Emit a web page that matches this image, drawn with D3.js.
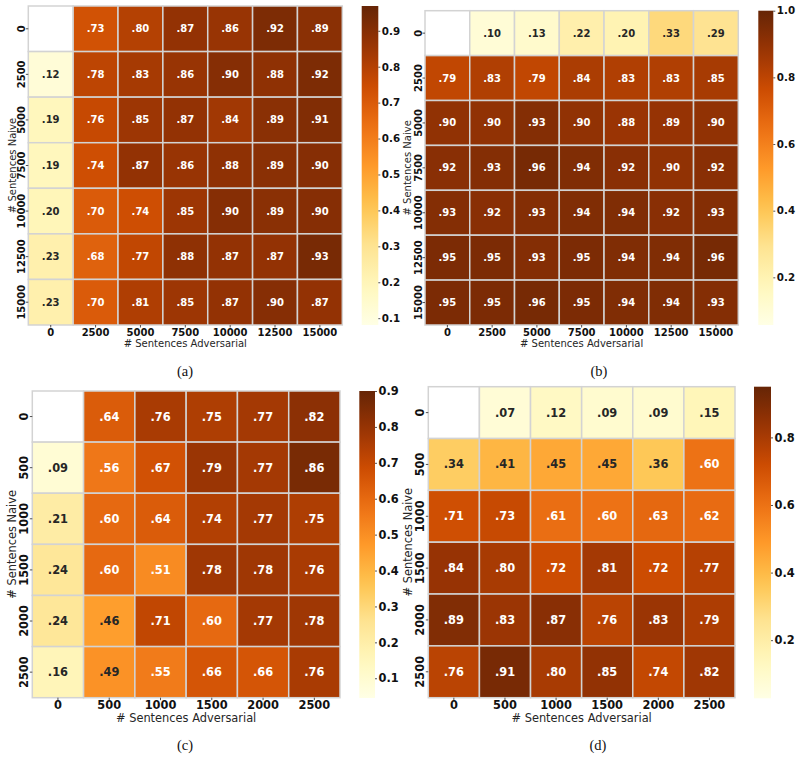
<!DOCTYPE html>
<html><head><meta charset="utf-8">
<script src="https://cdn.jsdelivr.net/npm/d3@7"></script>
<style>body{margin:0;background:#fff}svg{display:block}</style>
</head><body>
<svg id="chart" width="800" height="762"></svg>
<script>
// ---------- data ----------
const catsLarge = ["0","2500","5000","7500","10000","12500","15000"];
const catsSmall = ["0","500","1000","1500","2000","2500"];

const valuesA = [
  [null,.73,.80,.87,.86,.92,.89],
  [.12,.78,.83,.86,.90,.88,.92],
  [.19,.76,.85,.87,.84,.89,.91],
  [.19,.74,.87,.86,.88,.89,.90],
  [.20,.70,.74,.85,.90,.89,.90],
  [.23,.68,.77,.88,.87,.87,.93],
  [.23,.70,.81,.85,.87,.90,.87]
];
const valuesB = [
  [null,.10,.13,.22,.20,.33,.29],
  [.79,.83,.79,.84,.83,.83,.85],
  [.90,.90,.93,.90,.88,.89,.90],
  [.92,.93,.96,.94,.92,.90,.92],
  [.93,.92,.93,.94,.94,.92,.93],
  [.95,.95,.93,.95,.94,.94,.96],
  [.95,.95,.96,.95,.94,.94,.93]
];
const valuesC = [
  [null,.64,.76,.75,.77,.82],
  [.09,.56,.67,.79,.77,.86],
  [.21,.60,.64,.74,.77,.75],
  [.24,.60,.51,.78,.78,.76],
  [.24,.46,.71,.60,.77,.78],
  [.16,.49,.55,.66,.66,.76]
];
const valuesD = [
  [null,.07,.12,.09,.09,.15],
  [.34,.41,.45,.45,.36,.60],
  [.71,.73,.61,.60,.63,.62],
  [.84,.80,.72,.81,.72,.77],
  [.89,.83,.87,.76,.83,.79],
  [.76,.91,.80,.85,.74,.82]
];
const domainA = [0.081, 0.969], ticksA = [0.1,0.2,0.3,0.4,0.5,0.6,0.7,0.8,0.9];
const domainB = [0.057, 1.0],   ticksB = [0.2,0.4,0.6,0.8,1.0];
const domainC = [0.045, 0.90],  ticksC = [0.1,0.2,0.3,0.4,0.5,0.6,0.7,0.8,0.9];
const domainD = [0.028, 0.95],  ticksD = [0.2,0.4,0.6,0.8];
const captions = ["(a)","(b)","(c)","(d)"];
const xTitle = "# Sentences Adversarial", yTitle = "# Sentences Naive";

// matplotlib YlOrBr
const ylorbr = ["#ffffe5","#fff7bc","#fee391","#fec44f","#fe9929","#ec7014","#cc4c02","#993404","#662506"];

// ---------- layout ----------
const panels = [
  {vals:valuesA, cats:catsLarge, dom:domainA, ticks:ticksA, cap:captions[0],
   g:[28.3,342.3,6,325], cb:[361.7,378.3,6,325], fs:10, cfs:10.3, ytx:21, yty:12, xty:332, xtt:343, capPos:[185,371]},
  {vals:valuesB, cats:catsLarge, dom:domainB, ticks:ticksB, cap:captions[1],
   g:[425,738.3,10.7,325], cb:[758.3,773.3,10.7,325], fs:10, cfs:10.3, ytx:418, yty:407, xty:332, xtt:343, capPos:[599,371]},
  {vals:valuesC, cats:catsSmall, dom:domainC, ticks:ticksC, cap:captions[2],
   g:[32.3,340,391,697.7], cb:[359.3,375,391,698], fs:11.4, cfs:11.4, ytx:24, yty:12, xty:705, xtt:718, capPos:[185,745]},
  {vals:valuesD, cats:catsSmall, dom:domainD, ticks:ticksD, cap:captions[3],
   g:[428.3,735,386.7,697.7], cb:[754,771,386.7,698.3], fs:11.4, cfs:11.4, ytx:420, yty:408, xty:705, xtt:718, capPos:[598,745]}
];

const svg = d3.select("#chart");
const FONT = "'DejaVu Sans', sans-serif";

function lum(c){
  const rgb = d3.rgb(c);
  const f = v => { v/=255; return v <= 0.03928 ? v/12.92 : Math.pow((v+0.055)/1.055, 2.4); };
  return 0.2126*f(rgb.r)+0.7152*f(rgb.g)+0.0722*f(rgb.b);
}

panels.forEach(p => {
  const [x0,x1,y0,y1] = p.g;
  const n = p.cats.length;
  const color = d3.scaleLinear()
    .domain(ylorbr.map((_,i)=> p.dom[0] + (p.dom[1]-p.dom[0])*i/(ylorbr.length-1)))
    .range(ylorbr).interpolate(d3.interpolateRgb).clamp(true);
  const x = d3.scaleBand().domain(p.cats).range([x0,x1]);
  const y = d3.scaleBand().domain(p.cats).range([y0,y1]);
  const g = svg.append("g");

  const cells = [];
  p.vals.forEach((row,i)=>row.forEach((v,j)=>cells.push({r:p.cats[i], c:p.cats[j], v})));

  g.selectAll("rect.cell").data(cells).join("rect")
    .attr("x", d=>x(d.c)).attr("y", d=>y(d.r))
    .attr("width", x.bandwidth()).attr("height", y.bandwidth())
    .attr("fill", d=> d.v==null ? "#ffffff" : color(d.v))
    .attr("stroke", "#d3d3d3").attr("stroke-width", 1.5);

  g.selectAll("text.ann").data(cells.filter(d=>d.v!=null)).join("text")
    .attr("x", d=>x(d.c)+x.bandwidth()/2).attr("y", d=>y(d.r)+y.bandwidth()/2)
    .attr("text-anchor","middle").attr("dominant-baseline","central")
    .attr("font-family",FONT).attr("font-weight","bold").attr("font-size",p.fs)
    .attr("fill", d=> lum(color(d.v)) > 0.408 ? "#262626" : "#ffffff")
    .text(d=> d3.format(".2f")(d.v).replace(/^0/,""));

  // x ticks
  p.cats.forEach(c=>{
    const cx = x(c)+x.bandwidth()/2;
    g.append("line").attr("x1",cx).attr("x2",cx).attr("y1",y1).attr("y2",y1+2.5)
      .attr("stroke","#262626").attr("stroke-width",0.8);
    g.append("text").attr("x",cx).attr("y",p.xty).attr("text-anchor","middle")
      .attr("dominant-baseline","central").attr("font-family",FONT).attr("font-weight","bold")
      .attr("font-size",p.fs).attr("fill","#111").text(c);
    const cy = y(c)+y.bandwidth()/2;
    g.append("line").attr("x1",x0-2.5).attr("x2",x0).attr("y1",cy).attr("y2",cy)
      .attr("stroke","#262626").attr("stroke-width",0.8);
    g.append("text").attr("transform",`translate(${p.ytx},${cy}) rotate(-90)`)
      .attr("text-anchor","middle").attr("dominant-baseline","central")
      .attr("font-family",FONT).attr("font-weight","bold").attr("font-size",p.fs)
      .attr("fill","#111").text(c);
  });
  g.append("text").attr("x",(x0+x1)/2).attr("y",p.xtt).attr("text-anchor","middle")
    .attr("dominant-baseline","central").attr("font-family",FONT).attr("font-size",p.fs)
    .attr("fill","#262626").text(xTitle);
  g.append("text").attr("transform",`translate(${p.yty},${(y0+y1)/2}) rotate(-90)`)
    .attr("text-anchor","middle").attr("dominant-baseline","central")
    .attr("font-family",FONT).attr("font-size",p.fs).attr("fill","#262626").text(yTitle);

  // colorbar
  const [cx0,cx1,cy0,cy1] = p.cb;
  const cbScale = d3.scaleLinear().domain(p.dom).range([cy1,cy0]);
  const gradId = "grad"+p.cap.replace(/\W/g,"");
  const grad = svg.append("defs").append("linearGradient").attr("id",gradId)
    .attr("x1",0).attr("y1",1).attr("x2",0).attr("y2",0);
  d3.range(0,1.0001,0.05).forEach(t=>{
    grad.append("stop").attr("offset",t)
      .attr("stop-color", color(p.dom[0]+(p.dom[1]-p.dom[0])*t));
  });
  g.append("rect").attr("x",cx0).attr("y",cy0).attr("width",cx1-cx0).attr("height",cy1-cy0)
    .attr("fill",`url(#${gradId})`);
  const axis = d3.axisRight(cbScale).tickValues(p.ticks).tickSize(2).tickPadding(1.5).tickFormat(d3.format(".1f"));
  const ag = g.append("g").attr("transform",`translate(${cx1},0)`).call(axis);
  ag.select(".domain").remove();
  ag.selectAll("line").attr("stroke","#262626").attr("stroke-width",0.8);
  ag.selectAll("text").attr("font-family",FONT).attr("font-weight","bold")
    .attr("font-size",p.cfs).attr("fill","#111");

  // caption
  svg.append("text").attr("x",p.capPos[0]).attr("y",p.capPos[1]).attr("text-anchor","middle")
    .attr("dominant-baseline","central").attr("font-family","'Liberation Serif', serif")
    .attr("font-size",14.5).attr("fill","#111").text(p.cap);
});
</script>
</body></html>
